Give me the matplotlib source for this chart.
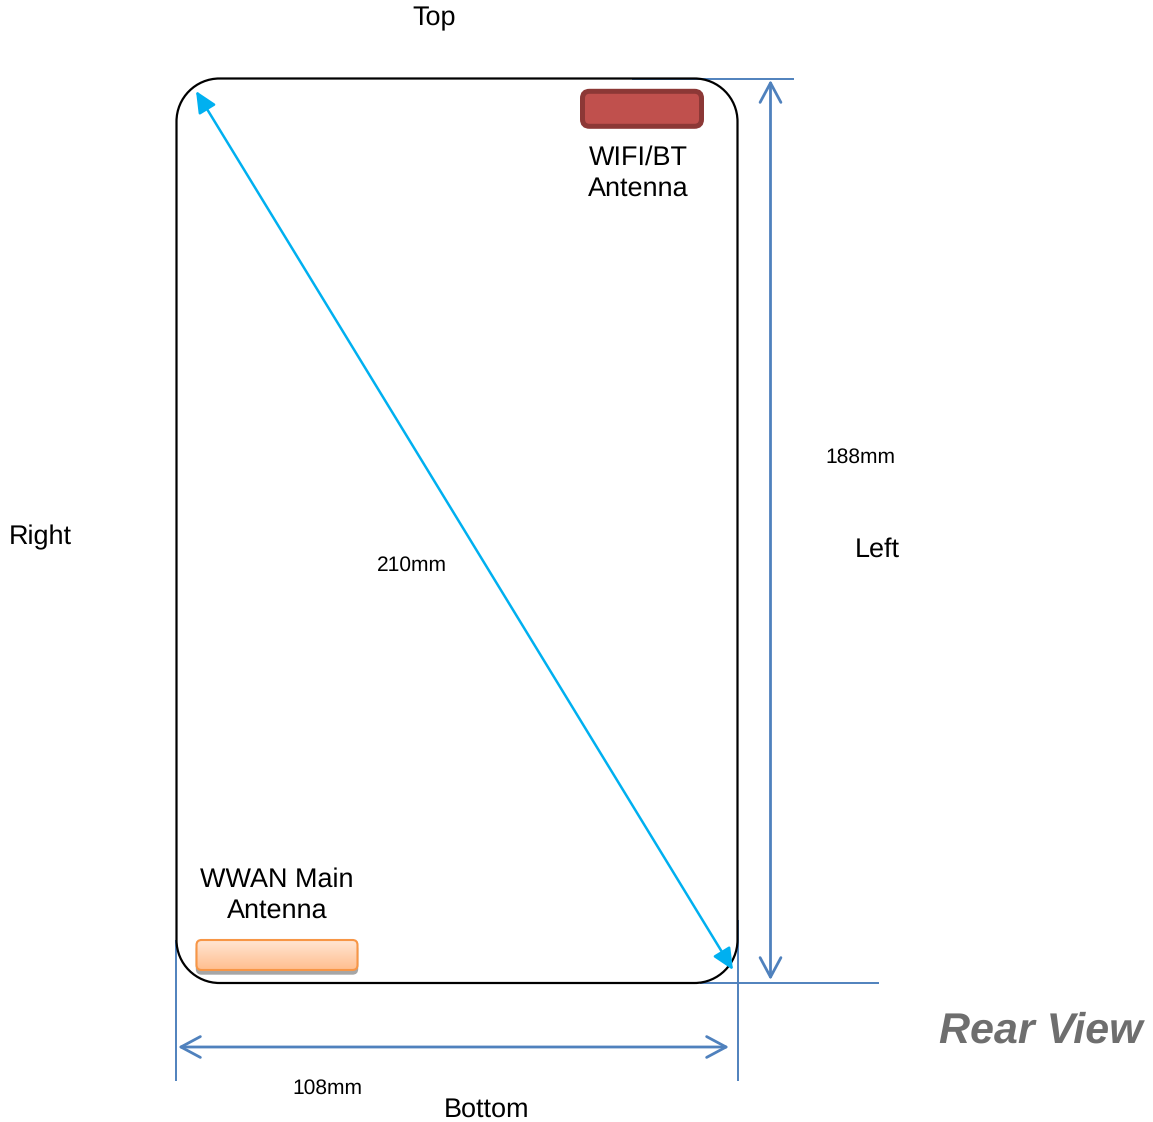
import numpy as np
import matplotlib
matplotlib.use("Agg")
import matplotlib.pyplot as plt
from matplotlib.patches import FancyBboxPatch, PathPatch
from matplotlib.path import Path

plt.rcParams['font.family'] = ['Liberation Sans', 'DejaVu Sans']
plt.rcParams['text.hinting'] = 'no_hinting'
plt.rcParams['text.hinting_factor'] = 1

# Layout, in pixels of the reference
W, H = 1153, 1122
device_x = [176.5, 737.5]
device_y = [78.5, 983]
device_radius = 43
wifi_box = [582.5, 91.3, 119, 35]
wwan_box = [196.5, 940, 161, 30]
guide_segments = [
    ((632, 78.5), (794, 78.5)),
    ((700, 983), (879, 983)),
    ((176, 940), (176, 1081)),
    ((737.5, 920), (737.5, 1081)),
]
dim_arrows = [
    ((770.5, 80), (770.5, 980)),
    ((178, 1047), (729, 1047)),
]
diag_arrow = ((196, 91), (733, 970))
labels = [
    (434, 18.5, "Top", 19.6, "normal", "normal", "#000000"),
    (487, 1109.5, "Bottom", 19.6, "normal", "normal", "#000000"),
    (40, 537.5, "Right", 19.6, "normal", "normal", "#000000"),
    (877, 549.5, "Left", 19.6, "normal", "normal", "#000000"),
    (638, 157.5, "WIFI/BT", 19.6, "normal", "normal", "#000000"),
    (638, 188.5, "Antenna", 19.6, "normal", "normal", "#000000"),
    (277, 879.5, "WWAN Main", 19.6, "normal", "normal", "#000000"),
    (277, 910.5, "Antenna", 19.6, "normal", "normal", "#000000"),
    (860, 457.5, "188mm", 15.2, "normal", "normal", "#000000"),
    (412, 565.5, "210mm", 15.2, "normal", "normal", "#000000"),
    (327, 1088.5, "108mm", 15.2, "normal", "normal", "#000000"),
    (1041, 1031.5, "Rear View", 31, "bold", "italic", "#6E6E6E"),
]

BLUE = "#4F81BD"
CYAN = "#00B0F0"

fig = plt.figure(figsize=(W / 100, H / 100), dpi=100)
ax = fig.add_axes([0, 0, 1, 1])
ax.set_xlim(0, W)
ax.set_ylim(H, 0)
ax.axis("off")

# guides lie under the device outline
for a, b in guide_segments:
    ax.plot([a[0], b[0]], [a[1], b[1]], color=BLUE, lw=1.4, zorder=1, solid_capstyle="butt")

# device outline with circular corners
xa, xb = device_x
ya, yb = device_y
r = device_radius
k = r * (1 - 0.5523)
verts = [
    (xa + r, ya), (xb - r, ya), (xb - k, ya), (xb, ya + k), (xb, ya + r),
    (xb, yb - r), (xb, yb - k), (xb - k, yb), (xb - r, yb),
    (xa + r, yb), (xa + k, yb), (xa, yb - k), (xa, yb - r),
    (xa, ya + r), (xa, ya + k), (xa + k, ya), (xa + r, ya),
]
codes = [Path.MOVETO, Path.LINETO, Path.CURVE4, Path.CURVE4, Path.CURVE4,
         Path.LINETO, Path.CURVE4, Path.CURVE4, Path.CURVE4,
         Path.LINETO, Path.CURVE4, Path.CURVE4, Path.CURVE4,
         Path.LINETO, Path.CURVE4, Path.CURVE4, Path.CURVE4]
ax.add_patch(PathPatch(Path(verts, codes), fc="none", ec="black", lw=1.6, zorder=2))

# WIFI antenna
ax.add_patch(FancyBboxPatch(
    (wifi_box[0], wifi_box[1]), wifi_box[2], wifi_box[3],
    boxstyle="round,pad=0,rounding_size=7", fc="#C0504D", ec="#8C3836", lw=3.6, zorder=4))

# WWAN antenna: shadow, gradient, border
x0, y0, w0, h0 = wwan_box
ax.add_patch(FancyBboxPatch(
    (x0, y0 + 4), w0, h0, boxstyle="round,pad=0,rounding_size=5",
    fc="#A6A6A6", ec="#A6A6A6", lw=1, zorder=4))
box = FancyBboxPatch(
    (x0, y0), w0, h0, boxstyle="round,pad=0,rounding_size=5",
    fc="white", ec="none", zorder=5)
ax.add_patch(box)
c0, c1 = np.array([0xFF, 0xE6, 0xD4]) / 255, np.array([0xFF, 0xBE, 0x8E]) / 255
grad = np.linspace(0, 1, 64)[:, None, None] * (c1 - c0) + c0
im = ax.imshow(grad, extent=(x0, x0 + w0, y0 + h0, y0), aspect="auto", zorder=6)
im.set_clip_path(box)
ax.set_xlim(0, W)
ax.set_ylim(H, 0)
ax.add_patch(FancyBboxPatch(
    (x0, y0), w0, h0, boxstyle="round,pad=0,rounding_size=5",
    fc="none", ec="#F79646", lw=1.5, zorder=7))

# dimension arrows
for a, b in dim_arrows:
    ax.annotate("", xy=b, xytext=a, zorder=3, arrowprops=dict(
        arrowstyle="<->,head_length=1.4,head_width=0.75", color=BLUE, lw=2.0,
        shrinkA=0, shrinkB=0, mutation_scale=10))

# diagonal arrow
ax.annotate("", xy=diag_arrow[1], xytext=diag_arrow[0], zorder=4, arrowprops=dict(
    arrowstyle="<|-|>,head_length=1.3,head_width=0.6", color=CYAN, lw=1.8,
    shrinkA=0, shrinkB=0, mutation_scale=10))

for x, y, s, size, weight, style, col in labels:
    ax.text(x, y, s, fontsize=size, fontweight=weight, fontstyle=style, color=col,
            ha="center", va="center", zorder=8)

fig.savefig("out.png", dpi=100, facecolor="white")
